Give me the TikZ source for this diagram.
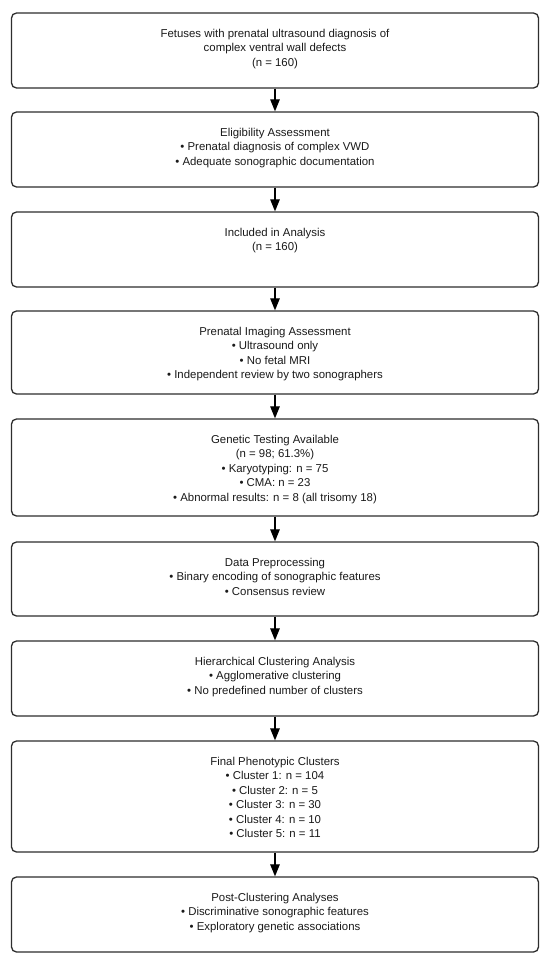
\documentclass[tikz,border=0pt]{standalone}
\usepackage{fontspec}
\setmainfont{Liberation Sans}
\usetikzlibrary{arrows.meta}
\definecolor{edge}{HTML}{2E2E2E}
\definecolor{ink}{HTML}{1A1A1A}
\begin{document}
\begin{tikzpicture}[x=1pt,y=1pt,
  stagebox/.style={draw=edge, line width=1.3pt, rounded corners=5pt, minimum width=527pt, inner sep=0pt},
  stagetext/.style={anchor=north, inner sep=0pt, align=center, text=ink, font=\fontsize{11.4pt}{14.35pt}\selectfont},
  flow/.style={draw=black, line width=1.2pt, -{Triangle[length=12pt,width=9.5pt]}}]
\useasboundingbox (0,0) rectangle (550,-961);
\fill[white] (0,0) rectangle (550,-961);
% boxes: top, bottom
\node[stagebox, minimum height=75pt] (b1) at (275,-50.5) {};
\node[stagebox, minimum height=75pt] (b2) at (275,-149.5) {};
\node[stagebox, minimum height=75pt] (b3) at (275,-249.5) {};
\node[stagebox, minimum height=83pt] (b4) at (275,-352.5) {};
\node[stagebox, minimum height=97pt] (b5) at (275,-467.5) {};
\node[stagebox, minimum height=74pt] (b6) at (275,-579) {};
\node[stagebox, minimum height=75pt] (b7) at (275,-678.5) {};
\node[stagebox, minimum height=111pt] (b8) at (275,-796.5) {};
\node[stagebox, minimum height=75pt] (b9) at (275,-914.5) {};
% texts
\node[stagetext] (t1) at ([yshift=-16.8pt]b1.north) {Fetuses with prenatal ultrasound diagnosis of\\complex ventral wall defects\\(n = 160)};
\node[stagetext] (t2) at ([yshift=-16.8pt]b2.north) {Eligibility Assessment\\• Prenatal diagnosis of complex VWD\\• Adequate sonographic documentation};
\node[stagetext] (t3) at ([yshift=-16.8pt]b3.north) {Included in Analysis\\(n = 160)};
\node[stagetext] (t4) at ([yshift=-16.8pt]b4.north) {Prenatal Imaging Assessment\\• Ultrasound only\\• No fetal MRI\\• Independent review by two sonographers};
\node[stagetext] (t5) at ([yshift=-16.8pt]b5.north) {Genetic Testing Available\\(n = 98; 61.3\%)\\• Karyotyping: n = 75\\• CMA: n = 23\\• Abnormal results: n = 8 (all trisomy 18)};
\node[stagetext] (t6) at ([yshift=-16.8pt]b6.north) {Data Preprocessing\\• Binary encoding of sonographic features\\• Consensus review};
\node[stagetext] (t7) at ([yshift=-16.8pt]b7.north) {Hierarchical Clustering Analysis\\• Agglomerative clustering\\• No predefined number of clusters};
\node[stagetext] (t8) at ([yshift=-16.8pt]b8.north) {Final Phenotypic Clusters\\• Cluster 1: n = 104\\• Cluster 2: n = 5\\• Cluster 3: n = 30\\• Cluster 4: n = 10\\• Cluster 5: n = 11};
\node[stagetext] (t9) at ([yshift=-16.8pt]b9.north) {Post-Clustering Analyses\\• Discriminative sonographic features\\• Exploratory genetic associations};
% arrows
\foreach \a/\b in {b1/b2,b2/b3,b3/b4,b4/b5,b5/b6,b6/b7,b7/b8,b8/b9}
  \draw[flow] (\a.south) -- (\b.north);
\end{tikzpicture}
\end{document}
